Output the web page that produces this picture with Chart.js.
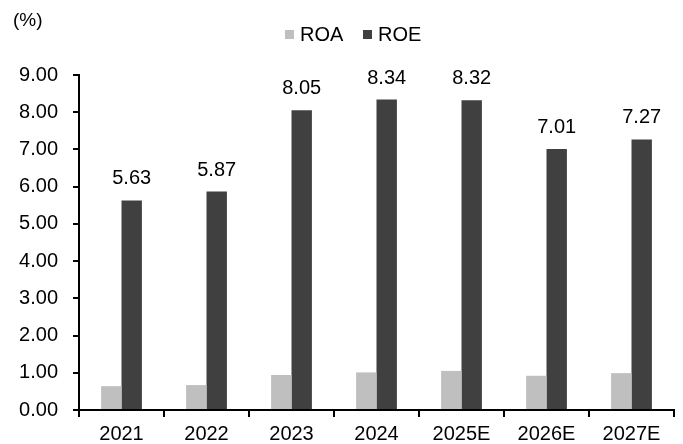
<!DOCTYPE html>
<html>
<head>
<meta charset="utf-8">
<script src="https://cdn.jsdelivr.net/npm/chart.js@4/dist/chart.umd.min.js"></script>
<style>
  html, body { margin: 0; padding: 0; background: #fff; }
  #wrap { width: 683px; height: 444px; }
</style>
</head>
<body>
<div id="wrap"><canvas id="c"></canvas></div>
<script>
const years = ['2021', '2022', '2023', '2024', '2025E', '2026E', '2027E'];
const roa = [0.64, 0.67, 0.94, 1.01, 1.05, 0.92, 0.99];
const roe = [5.63, 5.87, 8.05, 8.34, 8.32, 7.01, 7.27];

const FONT = 'Arial, "Liberation Sans", sans-serif';

// numbers above the ROE bars, the "(%)" unit and a compact legend
const extras = {
    id: 'extras',
    afterDatasetsDraw(chart) {
        const ctx = chart.ctx;
        ctx.save();
        ctx.fillStyle = '#000';
        ctx.font = '20px ' + FONT;
        ctx.textAlign = 'center';
        ctx.textBaseline = 'alphabetic';
        const meta = chart.getDatasetMeta(1);
        meta.data.forEach((bar, i) => {
            ctx.fillText(roe[i].toFixed(2), bar.x, bar.y - 16);
        });

        ctx.font = '19px ' + FONT;
        ctx.textAlign = 'left';
        ctx.textBaseline = 'middle';
        ctx.fillText('(%)', 13, 21);

        // legend
        ctx.font = '20px ' + FONT;
        const starts = [285, 363];
        const y = 35;
        chart.data.datasets.forEach((ds, i) => {
            const x = starts[i];
            ctx.fillStyle = ds.backgroundColor;
            ctx.fillRect(x, y - 5, 9, 9);
            ctx.fillStyle = '#000';
            ctx.fillText(ds.label, x + 15, y);
        });
        ctx.restore();
    }
};

new Chart(document.getElementById('c'), {
    type: 'bar',
    data: {
        labels: years,
        datasets: [
            { label: 'ROA', data: roa, backgroundColor: '#bfbfbf', barPercentage: 1.0, categoryPercentage: 0.48 },
            { label: 'ROE', data: roe, backgroundColor: '#404040', barPercentage: 1.0, categoryPercentage: 0.48 }
        ]
    },
    options: {
        responsive: true,
        maintainAspectRatio: false,
        animation: false,
        layout: { padding: { top: 75, right: 9, left: 0, bottom: 0 } },
        plugins: {
            legend: { display: false },
            tooltip: { enabled: false }
        },
        scales: {
            x: {
                grid: { display: true, offset: true, drawOnChartArea: false, drawTicks: true, tickLength: 7, color: '#000', lineWidth: 2 },
                border: { display: true, color: '#000', width: 2 },
                ticks: { color: '#000', font: { family: FONT, size: 20 }, padding: 5 },
                afterFit: scale => { scale.height = 34; }
            },
            y: {
                min: 0,
                max: 9,
                grid: { display: true, drawOnChartArea: false, drawTicks: true, tickLength: 6, color: '#000', lineWidth: 2 },
                border: { display: true, color: '#000', width: 2 },
                ticks: {
                    stepSize: 1,
                    color: '#000',
                    font: { family: FONT, size: 20 },
                    padding: 15,
                    callback: v => v.toFixed(2)
                },
                afterFit: scale => { scale.width = 79; }
            }
        }
    },
    plugins: [extras]
});
</script>
</body>
</html>
